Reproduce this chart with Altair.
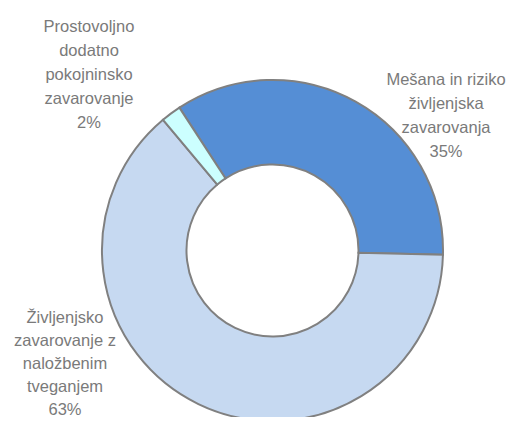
import altair as alt
import pandas as pd
import math

categories = [
    "Mešana in riziko življenjska zavarovanja",
    "Življenjsko zavarovanje z naložbenim tveganjem",
    "Prostovoljno dodatno pokojninsko zavarovanje",
]
values = [34.6, 63.5, 1.9]
pct_labels = ["35%", "63%", "2%"]
label_lines = [
    ["Mešana in riziko", "življenjska", "zavarovanja"],
    ["Življenjsko", "zavarovanje z", "naložbenim", "tveganjem"],
    ["Prostovoljno", "dodatno", "pokojninsko", "zavarovanje"],
]
colors = ["#558ed5", "#c6d9f1", "#ccffff"]

df = pd.DataFrame({"cat": categories, "val": values, "order": [0, 1, 2]})

W, H = 498, 409
cx, cy = 264.5, 242.5
start = math.radians(326.9)

arcs = alt.Chart(df).mark_arc(
    outerRadius=170.5, innerRadius=86, stroke="#808080", strokeWidth=2
).encode(
    theta=alt.Theta("val:Q", stack=True,
                    scale=alt.Scale(range=[start, start + 2 * math.pi])),
    order=alt.Order("order:Q"),
    color=alt.Color("cat:N", scale=alt.Scale(domain=categories, range=colors), legend=None),
    x=alt.value(cx),
    y=alt.value(cy),
)

label_pos = [(438, 72, 24), (57, 310, 23), (81, 19, 24)]
layers = [arcs]
for i in range(3):
    ldf = pd.DataFrame({"t": ["\n".join(label_lines[i] + [pct_labels[i]])]})
    lx, ly, lh = label_pos[i]
    layers.append(
        alt.Chart(ldf).mark_text(
            font="Liberation Sans", fontSize=16.5, color="#7a7a7a",
            lineBreak="\n", lineHeight=lh, align="center", baseline="middle",
        ).encode(text="t:N", x=alt.value(lx), y=alt.value(ly))
    )

chart = alt.layer(*layers).properties(
    width=W, height=H, autosize=alt.AutoSizeParams(type="none"), padding=0
).configure_view(stroke=None)

chart.save("out.html", embed_options={"renderer": "svg", "actions": False})
